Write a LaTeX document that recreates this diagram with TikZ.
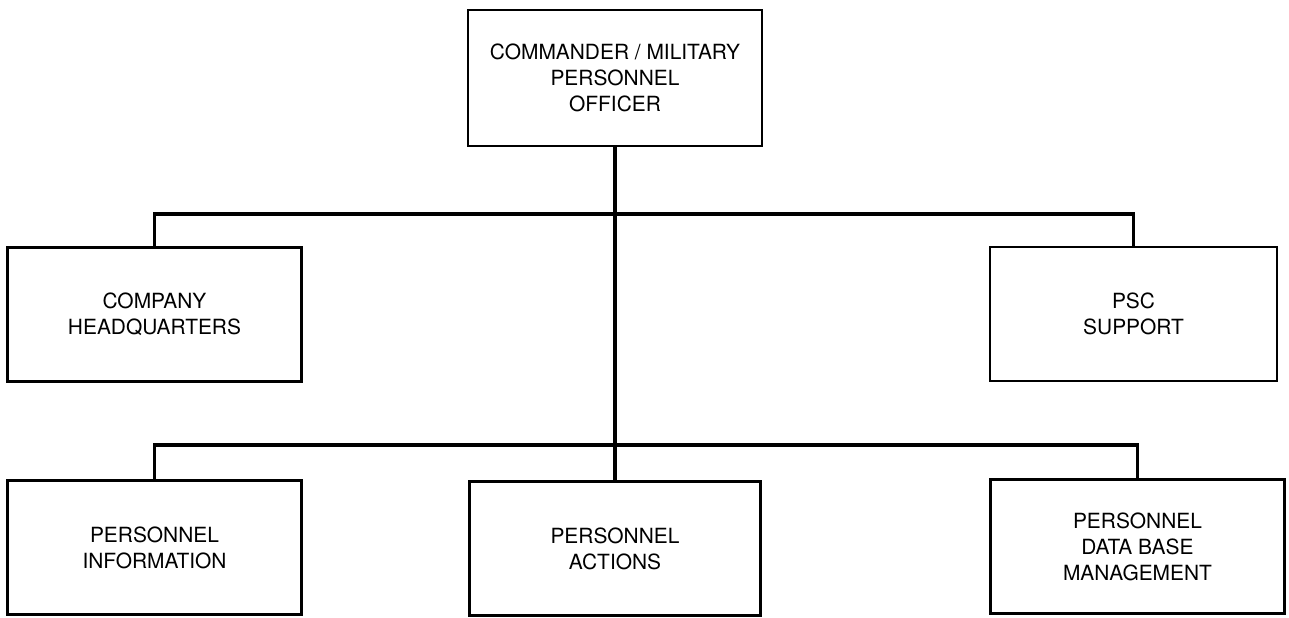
\documentclass[tikz,border=0pt]{standalone}
\usepackage{fontspec}
\setmainfont{TeX Gyre Heros}
\usepackage{tikz}
\usetikzlibrary{positioning}

\begin{document}
\begin{tikzpicture}[
  unit/.style={rectangle, draw, line width=1.6pt, fill=white,
               minimum width=5.88cm, minimum height=2.68cm,
               font=\fontsize{11.9}{14.8}\selectfont, align=center},
  link/.style={line width=2.2pt}
]
\useasboundingbox (0,0) rectangle (25.78,-12.34);
\node[unit, minimum height=2.72cm] (cmd)  at (12.3,-1.56)  {COMMANDER / MILITARY\\PERSONNEL\\OFFICER};
\node[unit]                        (hq)   at (3.09,-6.29)  {COMPANY\\HEADQUARTERS};
\node[unit, minimum width=5.74cm]  (psc)  at (22.67,-6.28) {PSC\\SUPPORT};
\node[unit]                        (info) at (3.09,-10.95) {PERSONNEL\\INFORMATION};
\node[unit, minimum width=5.82cm]  (act)  at (12.3,-10.97) {PERSONNEL\\ACTIONS};
\node[unit]                        (dbm)  at (22.75,-10.93) {PERSONNEL\\DATA BASE\\MANAGEMENT};

\coordinate (hubA) at (12.3,-4.28);
\coordinate (hubB) at (12.3,-8.9);

\draw[link] (cmd) -- (act);
\draw[link] (hq.north) |- (hubA) -| (psc.north);
\draw[link] (info.north) |- (hubB) -| (dbm.north);
\end{tikzpicture}
\end{document}
